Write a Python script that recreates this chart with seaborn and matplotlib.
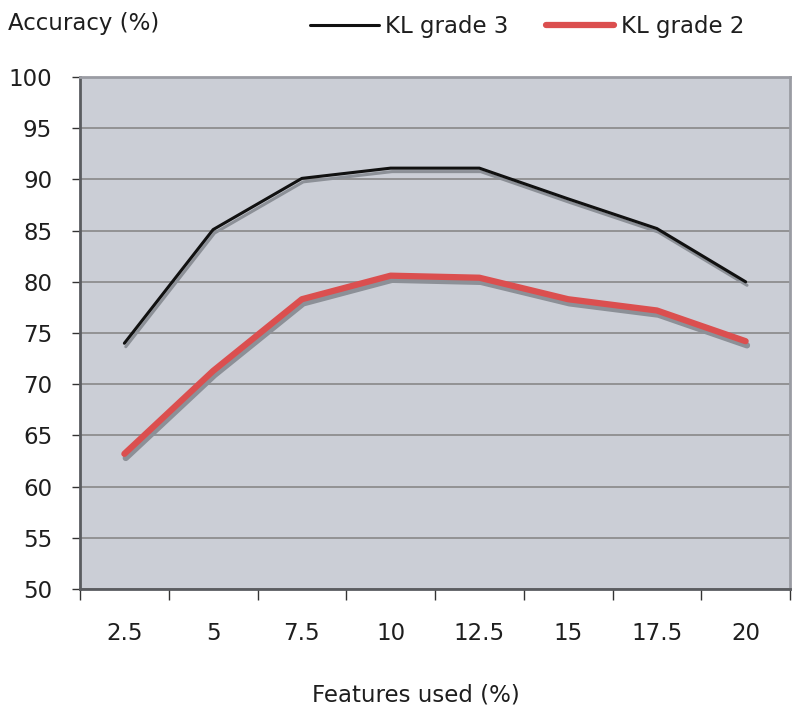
import pandas as pd
import matplotlib.pyplot as plt
import matplotlib.patheffects as pe
import seaborn as sns

# values
features = ['2.5', '5', '7.5', '10', '12.5', '15', '17.5', '20']
kl_grade_3 = [74.0, 85.1, 90.1, 91.1, 91.1, 88.1, 85.2, 80.0]
kl_grade_2 = [63.2, 71.3, 78.3, 80.6, 80.4, 78.3, 77.2, 74.2]
y_ticks = [50, 55, 60, 65, 70, 75, 80, 85, 90, 95, 100]

df = pd.DataFrame({'Features': features, 'KL grade 3': kl_grade_3, 'KL grade 2': kl_grade_2})
df['pos'] = range(len(features))

sns.set_style('white')
plt.rcParams['font.family'] = ['DejaVu Sans']
plt.rcParams['text.color'] = '#1e1e1e'
plt.rcParams['xtick.labelcolor'] = '#1e1e1e'
plt.rcParams['ytick.labelcolor'] = '#1e1e1e'

fs = 16.5

fig = plt.figure(figsize=(8, 7.17), dpi=100)
ax = fig.add_axes([0.1, 0.1785, 0.8875, 0.7141])
ax.set_facecolor('#cbced6')

shadow = '#8c9097'
sns.lineplot(data=df, x='pos', y='KL grade 3', color='#111111', linewidth=2.2, ax=ax,
             label='KL grade 3',
             path_effects=[pe.SimpleLineShadow(offset=(1, -2.5), shadow_color=shadow, alpha=1), pe.Normal()])
sns.lineplot(data=df, x='pos', y='KL grade 2', color='#db4f4f', linewidth=4.5, ax=ax,
             label='KL grade 2',
             path_effects=[pe.SimpleLineShadow(offset=(1, -3), shadow_color=shadow, alpha=1), pe.Normal()])

ax.set_ylim(50, 100)
ax.set_xlim(-0.5, len(features) - 0.5)
ax.set_yticks(y_ticks)
ax.yaxis.grid(True, color='#828282', linewidth=1.1)
ax.set_axisbelow(True)

# category axis: tick marks between categories, labels centred
ax.set_xticks([i - 0.5 for i in range(len(features) + 1)])
ax.set_xticklabels([])
ax.set_xticks(df['pos'], minor=True)
ax.set_xticklabels(features, minor=True)
ax.tick_params(axis='x', which='major', direction='out', length=8, width=1, color='#333333', bottom=True)
ax.tick_params(axis='x', which='minor', length=0, pad=24, labelsize=fs)
ax.tick_params(axis='y', direction='out', length=6, width=1, color='#333333', left=True, labelsize=fs, pad=14)

for side in ['top', 'right']:
    ax.spines[side].set_color('#9a9ca3')
    ax.spines[side].set_linewidth(2)
ax.spines['left'].set_color('#5a5c60')
ax.spines['left'].set_linewidth(2)
ax.spines['bottom'].set_color('#5a5c60')
ax.spines['bottom'].set_linewidth(2)

ax.set_xlabel('')
ax.set_ylabel('')
fig.text(0.01, 0.967, 'Accuracy (%)', fontsize=fs, va='center', ha='left')
fig.text(0.52, 0.031, 'Features used (%)', fontsize=fs, va='center', ha='center')

leg = ax.legend(loc='center', bbox_to_anchor=(0.659, 0.963), bbox_transform=fig.transFigure,
                ncol=2, frameon=False, fontsize=fs, handlelength=3.0, handletextpad=0.3,
                columnspacing=1.6)
for line in leg.get_lines():
    line.set_path_effects([])

fig.savefig('out.png', dpi=100)
